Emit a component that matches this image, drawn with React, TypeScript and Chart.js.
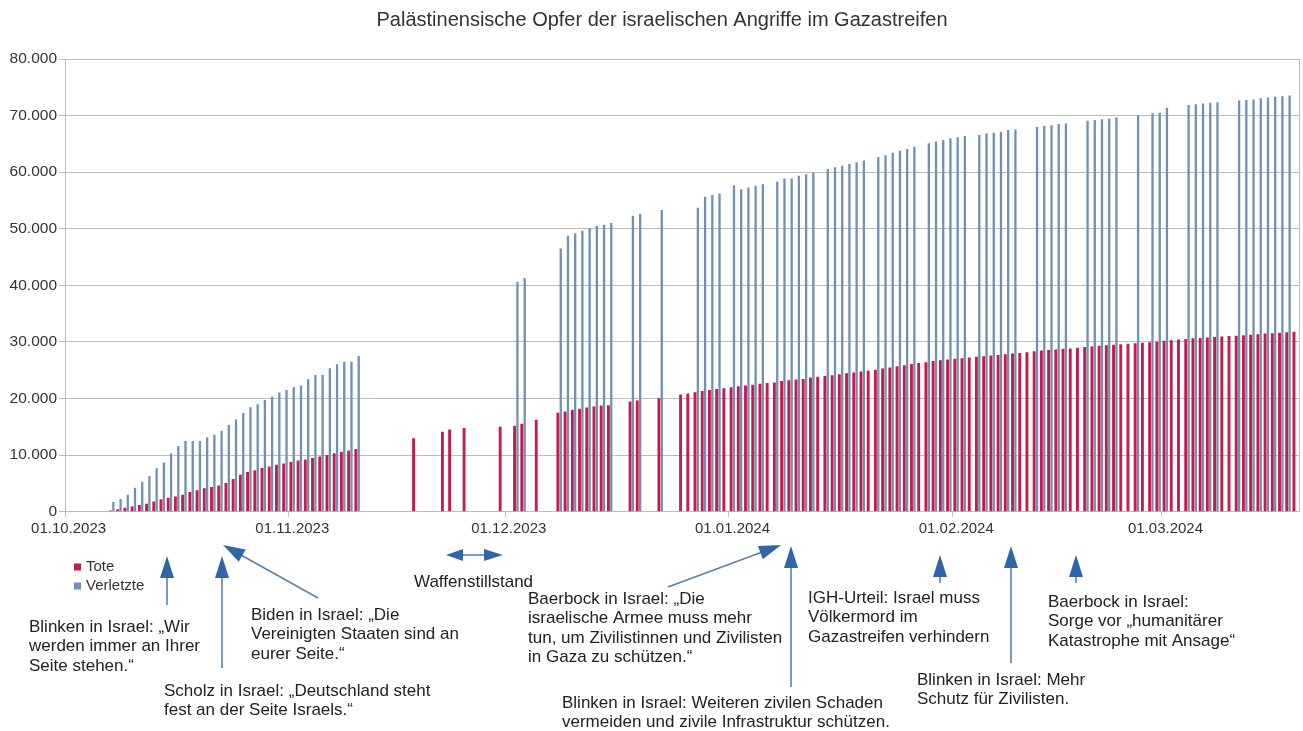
import { useEffect, useRef } from 'react';
import { Chart, registerables } from 'chart.js';

Chart.register(...registerables);

// ---------- DATA ----------
const START_DATE = '2023-10-01';
const DAY_COUNT = 171; // 01.10.2023 .. 19.03.2024

const monthTickLabels = ['01.10.2023', '01.11.2023', '01.12.2023', '01.01.2024', '01.02.2024', '01.03.2024'];

const seriesNames = ['Tote', 'Verletzte'];

// Tote (deaths), one value per day, null = no report
const tote: (number | null)[] = [
  null, null, null, null, null, null, 232, 413, 700, 900,
  1200, 1417, 1800, 2215, 2450, 2670, 3000, 3478, 3785, 4137,
  4385, 4651, 5087, 5791, 6546, 7028, 7326, 7703, 8005, 8306,
  8525, 8796, 9061, 9227, 9488, 9770, 10022, 10328, 10569, 10812,
  11078, null, null, null, null, null, null, null, 13000, null,
  null, null, 14128, 14532, null, 14800, null, null, null, null,
  15000, null, 15207, 15523, null, 16248, null, null, 17487, 17700,
  17997, 18205, 18412, 18608, 18787, 18800, null, null, 19453, 19667,
  null, null, 20057, null, null, 20700, 20900, 21100, 21320, 21507,
  21672, 21822, 21978, 22185, 22313, 22438, 22600, 22722, 22835, 23084,
  23210, 23357, 23469, 23708, 23843, 23968, 24100, 24285, 24448, 24620,
  24762, 24927, 25105, 25295, 25490, 25700, 25900, 26083, 26257, 26422,
  26637, 26751, 26900, 27019, 27131, 27238, 27365, 27478, 27585, 27708,
  27840, 27947, 28064, 28176, 28340, 28473, 28576, 28663, 28775, 28858,
  28985, 29092, 29195, 29313, 29410, 29514, 29606, 29692, 29782, 29878,
  29954, 30035, 30228, 30320, 30410, 30534, 30631, 30717, 30800, 30878,
  30960, 31045, 31112, 31184, 31272, 31341, 31490, 31553, 31645, 31726,
  31819,
];

// Verletzte (injured), one value per day, null = no report
const verletzte: (number | null)[] = [
  null, null, null, null, null, null, 1700, 2250, 3000, 4250,
  5300, 6300, 7700, 8700, 10300, 11600, 12500, 12500, 12500, 13100,
  13600, 14300, 15300, 16300, 17450, 18450, 18970, 19740, 20300, 21050,
  21500, 22000, 22300, 23400, 24150, 24150, 25350, 26050, 26500, 26500,
  27500, null, null, null, null, null, null, null, null, null,
  null, null, null, null, null, null, null, null, null, null,
  null, null, 40650, 41300, null, null, null, null, 46500, 48750,
  49200, 49650, 50100, 50550, 50700, 51000, null, null, 52300, 52600,
  null, null, 53300, null, null, null, null, 53700, 55650, 55950,
  56250, null, 57700, 57000, 57300, 57600, 57850, null, 58300, 58900,
  58900, 59350, 59650, 59900, null, 60550, 60850, 61150, 61450, 61750,
  62050, null, 62700, 63000, 63450, 63800, 64100, 64500, null, 65100,
  65400, 65700, 66000, 66150, 66400, null, 66550, 66850, 66950, 67150,
  67450, 67550, null, null, 68000, 68150, 68300, 68500, 68600, null,
  null, 69100, 69200, 69350, 69500, 69700, null, null, 70100, null,
  70400, 70500, 71400, null, null, 71850, 72000, 72150, 72250, 72350,
  null, null, 72650, 72750, 72850, 73050, 73200, 73350, 73400, 73550,
  null,
];

const Y_MAX = 80000;
const Y_STEP = 10000;

const TITLE = 'Palästinensische Opfer der israelischen Angriffe im Gazastreifen';

// ---------- ANNOTATIONS (layout, in canvas pixels) ----------
type Note = { x: number; y: number; lines: string[] };
const notes: Note[] = [
  { x: 29, y: 627, lines: ['Blinken in Israel: „Wir', 'werden immer an Ihrer', 'Seite stehen.“'] },
  { x: 251, y: 615, lines: ['Biden in Israel: „Die', 'Vereinigten Staaten sind an', 'eurer Seite.“'] },
  { x: 164, y: 691, lines: ['Scholz in Israel: „Deutschland steht', 'fest an der Seite Israels.“'] },
  { x: 414, y: 582, lines: ['Waffenstillstand'] },
  { x: 528, y: 599, lines: ['Baerbock in Israel: „Die', 'israelische Armee muss mehr', 'tun, um Zivilistinnen und Zivilisten', 'in Gaza zu schützen.“'] },
  { x: 562, y: 703, lines: ['Blinken in Israel: Weiteren zivilen Schaden', 'vermeiden und zivile Infrastruktur schützen.'] },
  { x: 808, y: 598, lines: ['IGH-Urteil: Israel muss', 'Völkermord im', 'Gazastreifen verhindern'] },
  { x: 917, y: 680, lines: ['Blinken in Israel: Mehr', 'Schutz für Zivilisten.'] },
  { x: 1048, y: 602, lines: ['Baerbock in Israel:', 'Sorge vor „humanitärer', 'Katastrophe mit Ansage“'] },
];

type Arrow = { tail: [number, number]; tip: [number, number]; head?: number; width?: number };
const arrows: Arrow[] = [
  { tail: [167, 605], tip: [167, 556] },
  { tail: [222, 668], tip: [222, 556] },
  { tail: [318, 598], tip: [223, 545] },
  { tail: [474, 555], tip: [446, 555], head: 17, width: 12 },
  { tail: [474, 555], tip: [503, 555], head: 19, width: 12 },
  { tail: [668, 587], tip: [781, 545] },
  { tail: [791, 687], tip: [791, 546] },
  { tail: [940, 583], tip: [940, 555] },
  { tail: [1011, 663], tip: [1011, 546] },
  { tail: [1076, 583], tip: [1076, 555] },
];

// ---------- helpers ----------
function buildDayLabels(): string[] {
  const out: string[] = [];
  const d0 = new Date(START_DATE + 'T00:00:00Z');
  for (let i = 0; i < DAY_COUNT; i++) {
    const d = new Date(d0.getTime() + i * 86400000);
    const dd = String(d.getUTCDate()).padStart(2, '0');
    const mm = String(d.getUTCMonth() + 1).padStart(2, '0');
    out.push(`${dd}.${mm}.${d.getUTCFullYear()}`);
  }
  return out;
}

function fmt(v: number): string {
  return String(Math.round(v)).replace(/\B(?=(\d{3})+(?!\d))/g, '.');
}

const RED = '#c51b4f';
const BLUE = '#7090b4';
const GRID = '#bcbcbc';
const FONT = '"Liberation Sans", Arial, sans-serif';

function drawArrow(ctx: CanvasRenderingContext2D, a: Arrow) {
  const [x1, y1] = a.tail;
  const [x2, y2] = a.tip;
  const head = a.head ?? 22;
  const w = a.width ?? 14;
  const dx = x2 - x1, dy = y2 - y1;
  const len = Math.hypot(dx, dy);
  const ux = dx / len, uy = dy / len;
  const bx = x2 - ux * head, by = y2 - uy * head;
  ctx.strokeStyle = '#5b80ab';
  ctx.lineWidth = 1.6;
  ctx.beginPath();
  ctx.moveTo(x1, y1);
  ctx.lineTo(bx + ux * 2, by + uy * 2);
  ctx.stroke();
  ctx.fillStyle = '#2e66a8';
  ctx.beginPath();
  ctx.moveTo(x2, y2);
  ctx.lineTo(bx - uy * w / 2, by + ux * w / 2);
  ctx.lineTo(bx + uy * w / 2, by - ux * w / 2);
  ctx.closePath();
  ctx.fill();
}

const overlayPlugin = {
  id: 'overlay',
  afterDraw(chart: any) {
    const ctx: CanvasRenderingContext2D = chart.ctx;
    ctx.save();
    // title
    ctx.font = `20px ${FONT}`;
    ctx.fillStyle = '#333';
    ctx.textAlign = 'center';
    ctx.textBaseline = 'middle';
    ctx.fillText(TITLE, 662, 20);
    // legend
    ctx.font = `15px ${FONT}`;
    ctx.textAlign = 'left';
    const leg = [
      { name: seriesNames[0], color: RED, y: 567 },
      { name: seriesNames[1], color: BLUE, y: 586 },
    ];
    for (const l of leg) {
      ctx.fillStyle = l.color;
      ctx.fillRect(74, l.y - 3.5, 7, 7);
      ctx.fillStyle = '#333';
      ctx.fillText(l.name, 86, l.y);
    }
    // arrows
    for (const a of arrows) drawArrow(ctx, a);
    // notes
    ctx.font = `17px ${FONT}`;
    ctx.fillStyle = '#222';
    for (const n of notes) {
      n.lines.forEach((t, i) => ctx.fillText(t, n.x, n.y + i * 19.5));
    }
    ctx.restore();
  },
};

export default function App() {
  const ref = useRef<HTMLCanvasElement | null>(null);

  useEffect(() => {
    if (!ref.current) return;
    const labels = buildDayLabels();
    const chart = new Chart(ref.current, {
      type: 'bar',
      data: {
        labels,
        datasets: [
          { label: seriesNames[0], data: tote, backgroundColor: RED, categoryPercentage: 0.8, barPercentage: 1.0 },
          { label: seriesNames[1], data: verletzte, backgroundColor: BLUE, categoryPercentage: 0.8, barPercentage: 0.8 },
        ],
      },
      options: {
        animation: false,
        responsive: false,
        events: [],
        layout: { padding: { left: 0, right: 4, top: 59, bottom: 0 } },
        plugins: {
          legend: { display: false },
          tooltip: { enabled: false },
          title: { display: false },
        },
        scales: {
          x: {
            offset: true,
            afterFit: (s: any) => { s.height = 219.3; },
            grid: {
              offset: true,
              drawOnChartArea: true,
              tickLength: 5,
              color: (c: any) => (c.type === 'scale' || c.index === 0 ? GRID : 'rgba(0,0,0,0)'),
              tickColor: (c: any) => (c.type === 'tick' && monthTickLabels.includes(labels[c.index]) ? GRID : 'rgba(0,0,0,0)'),
            },
            border: { display: true, color: GRID },
            ticks: {
              autoSkip: false,
              maxRotation: 0,
              minRotation: 0,
              padding: 3,
              color: '#333',
              font: { family: FONT, size: 15 },
              callback: (_v: any, i: number) => (monthTickLabels.includes(labels[i]) ? labels[i] : ''),
            },
          },
          y: {
            min: 0,
            max: Y_MAX,
            afterFit: (s: any) => { s.width = 65; },
            grid: { color: GRID, tickColor: GRID, tickLength: 6 },
            border: { display: true, color: GRID },
            ticks: {
              stepSize: Y_STEP,
              padding: 2,
              color: '#333',
              font: { family: FONT, size: 15.5 },
              callback: (v: any) => fmt(Number(v)),
            },
          },
        },
      },
      plugins: [overlayPlugin],
    });
    return () => chart.destroy();
  }, []);

  return (
    <div style={{ position: 'fixed', left: 0, top: 0, width: 1303, height: 731, background: '#fff' }}>
      <canvas ref={ref} width={1303} height={731} style={{ display: 'block' }} />
    </div>
  );
}
